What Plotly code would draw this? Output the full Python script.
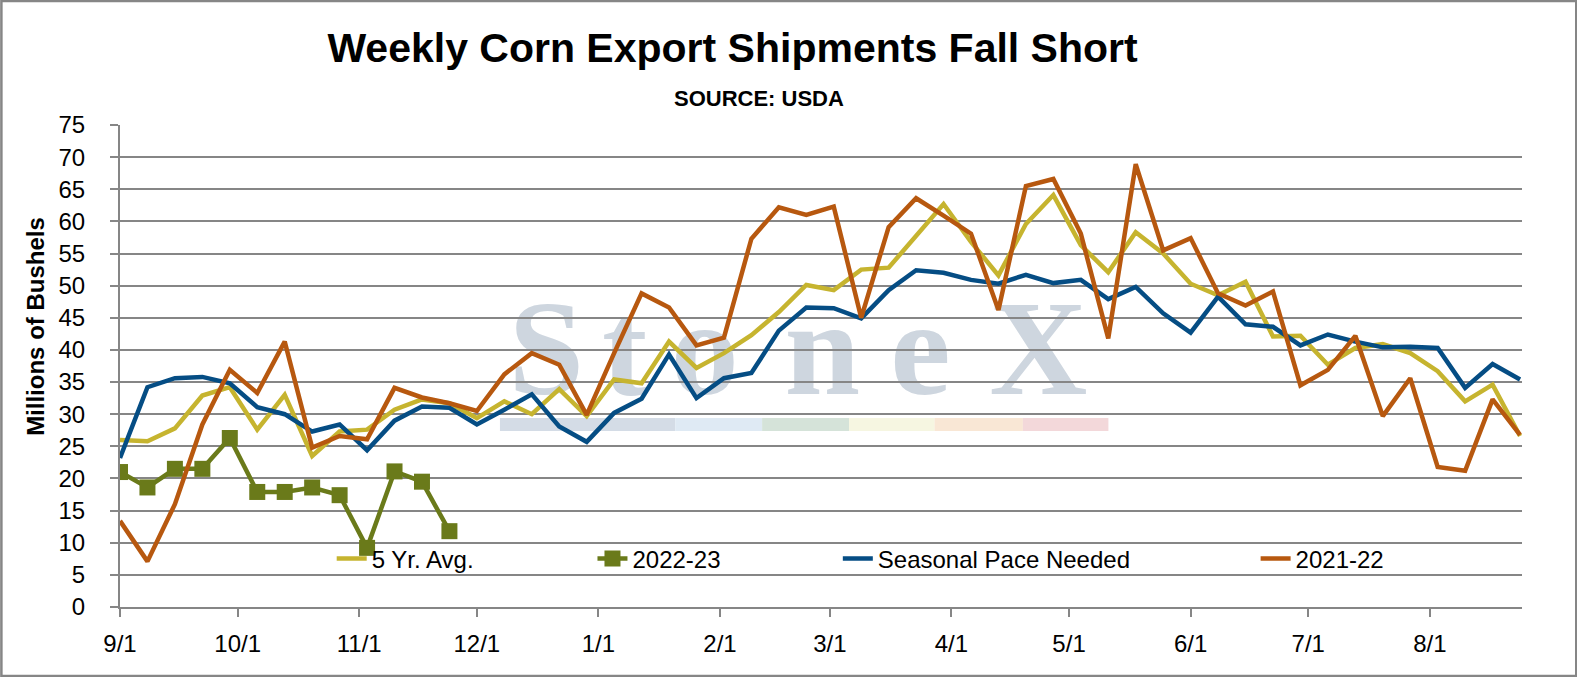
"""Weekly corn export shipments chart (plotly)."""
import pandas as pd
import plotly.graph_objects as go

FONT = "Arial, Liberation Sans, sans-serif"
GRID = "#868686"

# weekly inspections, millions of bushels
week_start = "2022-09-01"
avg_5yr = [26.0, 25.8, 27.8, 32.9, 34.2, 27.6, 33.0, 23.5, 27.3, 27.6,
           30.7, 32.3, 31.7, 29.4, 32.0, 30.0, 33.9, 29.7, 35.4, 34.8,
           41.3, 37.2, 39.5, 42.3, 45.9, 50.1, 49.3, 52.5, 52.8, 57.8,
           62.7, 56.8, 51.6, 59.6, 64.1, 56.3, 52.1, 58.3, 55.0, 50.3,
           48.5, 50.6, 42.1, 42.2, 37.7, 40.3, 40.9, 39.5, 36.7, 32.0,
           34.6, 26.6]
my_2022_23 = [21.0, 18.6, 21.5, 21.5, 26.3, 17.9, 17.9, 18.6, 17.4, 9.2,
              21.1, 19.5, 11.8]
pace_needed = [23.2, 34.2, 35.6, 35.8, 34.8, 31.1, 30.0, 27.3, 28.4, 24.4,
               29.0, 31.2, 31.0, 28.4, 30.7, 33.1, 28.1, 25.7, 30.2, 32.4,
               39.3, 32.5, 35.6, 36.4, 43.0, 46.6, 46.5, 44.9, 49.3, 52.4,
               52.0, 50.9, 50.3, 51.7, 50.4, 50.9, 47.9, 49.8, 45.7, 42.7,
               48.3, 44.0, 43.6, 40.7, 42.4, 41.3, 40.4, 40.5, 40.3, 34.1,
               37.8, 35.4]
my_2021_22 = [13.4, 7.1, 16.0, 28.4, 36.9, 33.3, 41.3, 24.8, 26.6, 26.1,
              34.1, 32.6, 31.7, 30.5, 36.2, 39.5, 37.7, 29.9, 39.5, 48.8,
              46.6, 40.7, 41.9, 57.3, 62.2, 61.0, 62.3, 45.0, 59.1, 63.6,
              60.9, 58.1, 46.2, 65.5, 66.6, 58.1, 41.8, 68.9, 55.5, 57.4,
              48.8, 46.9, 49.1, 34.5, 36.9, 42.2, 29.7, 35.6, 21.8, 21.2,
              32.3, 26.8]

weeks = pd.date_range(week_start, periods=len(avg_5yr), freq="7D")

fig = go.Figure()
fig.add_trace(go.Scatter(x=weeks, y=avg_5yr, name="5 Yr. Avg.", mode="lines",
                         line=dict(color="#c6b42f", width=4.5), legend="legend"))
fig.add_trace(go.Scatter(x=weeks[:len(my_2022_23)], y=my_2022_23, name="2022-23",
                         mode="lines+markers",
                         line=dict(color="#6a7a1a", width=4.5),
                         marker=dict(symbol="square", size=16, color="#6a7a1a"),
                         legend="legend2"))
fig.add_trace(go.Scatter(x=weeks, y=pace_needed, name="Seasonal Pace Needed",
                         mode="lines", line=dict(color="#054d84", width=4.5),
                         legend="legend3"))
fig.add_trace(go.Scatter(x=weeks, y=my_2021_22, name="2021-22", mode="lines",
                         line=dict(color="#b7580f", width=4.5), legend="legend4"))

# StoneX watermark: letters + colour stripe, kept under the gridlines
shapes = []
wm_letters = ["S", "t", "o", "n", "e", "X"]
wm_centers = [0.304, 0.360, 0.417, 0.501, 0.571, 0.655]
for ch, cx in zip(wm_letters, wm_centers):
    shapes.append(dict(type="rect", xref="paper", yref="paper", layer="below",
                       x0=cx - 0.04, x1=cx + 0.04, y0=0.483, y1=0.653,
                       line=dict(width=0), fillcolor="rgba(0,0,0,0)",
                       label=dict(text="<b>%s</b>" % ch,
                                  font=dict(family="Liberation Serif, Times New Roman, serif",
                                            size=136, color="#ced6df"),
                                  textposition="middle center")))
stripe_edges = [0.271, 0.396, 0.458, 0.520, 0.581, 0.644, 0.705]
stripe_cols = ["#d4dce6", "#dfeaf4", "#d5e3d9", "#f6f6e1", "#f9e7d5", "#f3d8da"]
for x0, x1, c in zip(stripe_edges[:-1], stripe_edges[1:], stripe_cols):
    shapes.append(dict(type="rect", xref="paper", yref="paper", layer="below",
                       x0=x0, x1=x1, y0=0.365, y1=0.392,
                       line=dict(width=0), fillcolor=c))
# outer frame round the whole picture
shapes.append(dict(type="rect", xref="paper", yref="paper",
                   x0=-0.0846, x1=1.0387, y0=-0.1432, y1=1.2573,
                   line=dict(color=GRID, width=2.5)))

legend_base = dict(orientation="h", yanchor="middle", y=0.10, xanchor="left",
                   bgcolor="rgba(0,0,0,0)", font=dict(family=FONT, size=24, color="black"),
                   itemwidth=30, tracegroupgap=0)

fig.update_layout(
    width=1577, height=677,
    margin=dict(l=120, r=55, t=125, b=70),
    paper_bgcolor="white", plot_bgcolor="white",
    font=dict(family=FONT, size=24, color="black"),
    title=dict(text="<b>Weekly Corn Export Shipments Fall Short</b>",
               x=0.4645, xanchor="center", y=0.929, yanchor="middle",
               xref="container", yref="container",
               font=dict(family=FONT, size=41, color="black")),
    legend=dict(legend_base, x=0.151),
    legend2=dict(legend_base, x=0.337),
    legend3=dict(legend_base, x=0.512),
    legend4=dict(legend_base, x=0.810),
    shapes=shapes,
    annotations=[
        dict(text="<b>SOURCE: USDA</b>", xref="paper", yref="paper",
             x=0.456, y=1.056, xanchor="center", yanchor="middle",
             showarrow=False, font=dict(family=FONT, size=22, color="black")),
        dict(text="<b>Millions of Bushels</b>", xref="paper", yref="paper",
             x=-0.06, y=0.583, xanchor="center", yanchor="middle", textangle=-90,
             showarrow=False, font=dict(family=FONT, size=24, color="black")),
    ],
    showlegend=True,
)

fig.update_xaxes(
    type="date", range=["2022-09-01", "2023-08-24 12:00"],
    tick0="2022-09-01", dtick="M1", tickformat="%-m/%-d",
    showgrid=False, showline=True, linecolor=GRID, linewidth=2,
    ticks="outside", ticklen=8, tickwidth=2, tickcolor=GRID,
    tickfont=dict(family=FONT, size=24, color="black"), ticklabelstandoff=6,
    zeroline=False,
)
fig.update_yaxes(
    range=[0, 75], dtick=5, tick0=0,
    showgrid=True, gridcolor=GRID, gridwidth=2,
    showline=True, linecolor=GRID, linewidth=2,
    ticks="outside", ticklen=8, tickwidth=2, tickcolor=GRID,
    tickfont=dict(family=FONT, size=24, color="black"), ticklabelstandoff=20,
    zeroline=False,
)

# page body has a default 8px margin; drop it so the chart fills the window
fig.write_html("out.html", config={"displayModeBar": False},
               post_script="document.body.style.margin='0';document.body.style.overflow='hidden';")
